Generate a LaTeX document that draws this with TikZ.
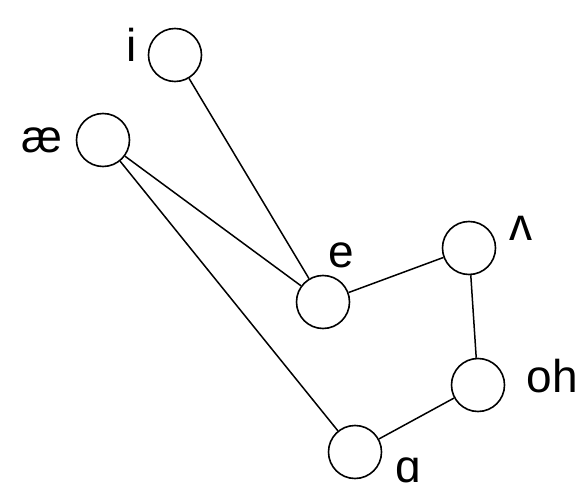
\documentclass[tikz,border=0pt]{standalone}
\usepackage{fontspec}
\setmainfont{Liberation Sans}
\tikzset{
  vowel/.style={draw,circle,minimum size=53pt,inner sep=0pt,line width=1.6pt},
  vlabel/.style={font=\fontsize{46}{50}\selectfont,inner sep=0pt},
}
\begin{document}
\begin{tikzpicture}[x=1pt,y=-1pt,line width=1.5pt]
  \useasboundingbox (0,0) rectangle (583,494);
  \node[vowel] (i) at (175,55) {};
  \node[vowel] (ae) at (103,140) {};
  \node[vowel] (e) at (323,302) {};
  \node[vowel] (wedge) at (469,248) {};
  \node[vowel] (oh) at (478,385) {};
  \node[vowel] (a) at (355,452) {};
  \node[vlabel] (li) at (132,45) {i};
  \node[vlabel] (lae) at (42,140) {æ};
  \node[vlabel] (le) at (341,255) {e};
  \node[vlabel] (lwedge) at (521,228) {ʌ};
  \node[vlabel] (loh) at (552,376) {oh};
  \node[vlabel] (la) at (408,470) {ɑ};
  \draw (i) -- (e);
  \draw (ae) -- (e);
  \draw (ae) -- (a);
  \draw (e) -- (wedge);
  \draw (wedge) -- (oh);
  \draw (oh) -- (a);
\end{tikzpicture}
\end{document}
